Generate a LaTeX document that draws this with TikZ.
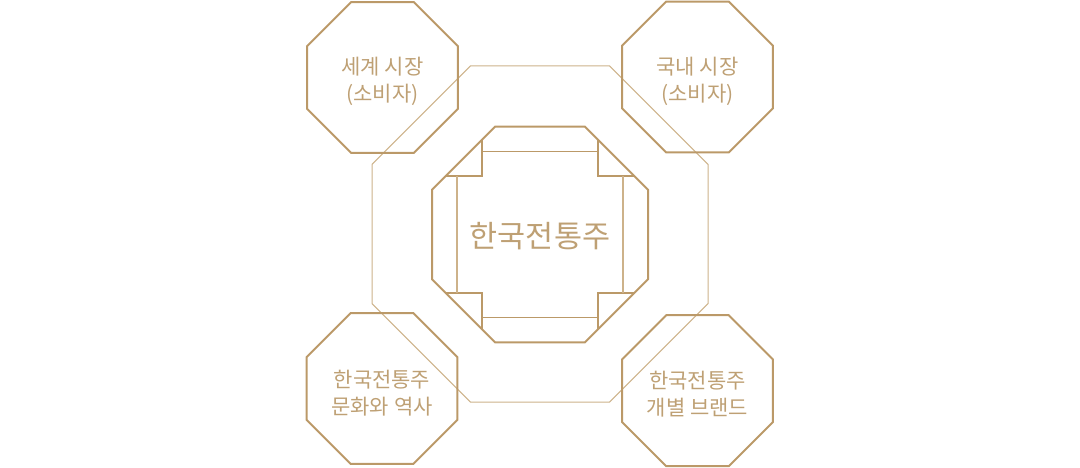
\documentclass[tikz,border=0pt]{standalone}
\usepackage{fontspec}
\newfontfamily\kr{Noto Sans CJK KR}
\usetikzlibrary{shapes.geometric,calc}
\definecolor{gold}{RGB}{187,153,104}
\definecolor{goldtext}{RGB}{190,160,116}
\definecolor{goldlight}{RGB}{205,178,138}
\begin{document}
\begin{tikzpicture}[x=1pt,y=-1pt,
  oct/.style={regular polygon, regular polygon sides=8, draw=gold, line width=2pt, inner sep=0pt, outer sep=0pt},
  cornerbox/.style={oct, minimum size=163.4pt},
  corebox/.style={oct, minimum size=233.8pt},
  framebox/.style={regular polygon, regular polygon sides=8, draw=goldlight, line width=1pt, inner sep=0pt, outer sep=0pt, minimum size=363.7pt},
  lbl/.style={align=center, text=goldtext, font=\kr\fontsize{21}{27}\selectfont, inner sep=0pt},
  title/.style={text=goldtext, font=\kr\fontsize{30.5}{36}\selectfont, inner sep=0pt},
  notch/.style={draw=gold, line width=2pt},
  rim/.style={draw=gold, line width=1.2pt},
  rimside/.style={draw=goldlight, line width=1.4pt}]
\useasboundingbox (0,0) rectangle (1080,468);
\node[framebox] (frame) at (540,234) {};
\node[cornerbox] (tl) at (382.5,77.5) {};
\node[cornerbox] (tr) at (697.5,77) {};
\node[cornerbox] (bl) at (382,388.5) {};
\node[cornerbox] (br) at (697.5,390.7) {};
\node[corebox] (core) at (540,234.5) {};
% notches
\draw[notch] ($(core.center)+(-58,-94.7)$) coordinate (n1a) -- ($(core.center)+(-58,-58)$) coordinate (n1) -- ($(core.center)+(-94.7,-58)$) coordinate (n1b);
\draw[notch] ($(core.center)+(58,-94.7)$) coordinate (n2a) -- ($(core.center)+(58,-58)$) coordinate (n2) -- ($(core.center)+(94.7,-58)$) coordinate (n2b);
\draw[notch] ($(core.center)+(-58,94.7)$) coordinate (n3a) -- ($(core.center)+(-58,58)$) coordinate (n3) -- ($(core.center)+(-94.7,58)$) coordinate (n3b);
\draw[notch] ($(core.center)+(58,94.7)$) coordinate (n4a) -- ($(core.center)+(58,58)$) coordinate (n4) -- ($(core.center)+(94.7,58)$) coordinate (n4b);
% inner rim lines
\draw[rim] ($(core.center)+(-58,-83)$) coordinate (r1) -- ($(core.center)+(58,-83)$) coordinate (r2);
\draw[rim] ($(core.center)+(-58,83)$) coordinate (r3) -- ($(core.center)+(58,83)$) coordinate (r4);
\draw[rimside] ($(core.center)+(-83,-58)$) coordinate (r5) -- ($(core.center)+(-83,58)$) coordinate (r6);
\draw[rimside] ($(core.center)+(83,-58)$) coordinate (r7) -- ($(core.center)+(83,58)$) coordinate (r8);
% texts
\node[title] (ttl) at ($(core.center)+(0,2)$) {한국전통주};
\node[lbl] (ltl) at ($(tl.center)+(0,4)$) {세계 시장\\(소비자)};
\node[lbl] (ltr) at ($(tr.center)+(0,4)$) {국내 시장\\(소비자)};
\node[lbl] (lbl1) at ($(bl.center)+(0,5)$) {한국전통주\\문화와 역사};
\node[lbl] (lbr) at ($(br.center)+(0,3)$) {한국전통주\\개별 브랜드};
\end{tikzpicture}
\end{document}
